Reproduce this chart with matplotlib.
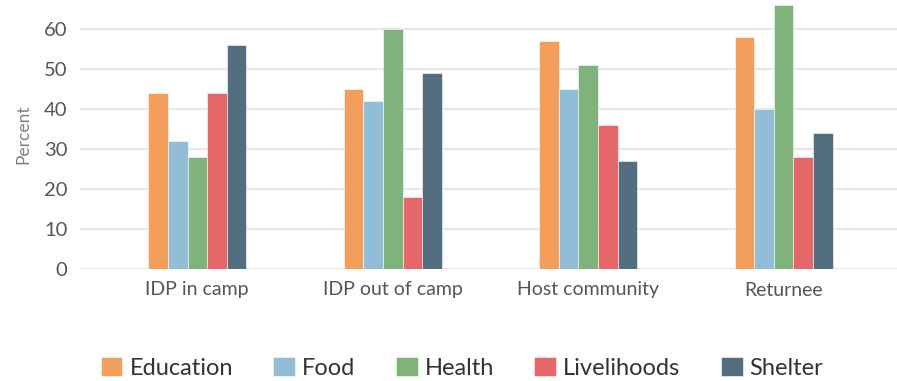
import matplotlib.pyplot as plt
import numpy as np

plt.rcParams['font.family'] = ['Lato', 'DejaVu Sans']

groups = ["IDP in camp", "IDP out of camp", "Host community", "Returnee"]
sectors = ["Education", "Food", "Health", "Livelihoods", "Shelter"]
education = [44, 45, 57, 58]
food = [32, 42, 45, 40]
health = [28, 60, 51, 66]
livelihoods = [44, 18, 36, 28]
shelter = [56, 49, 27, 34]
colors = ["#F49E5B", "#91BDD6", "#7FB37B", "#E5676A", "#526E7F"]

series = [education, food, health, livelihoods, shelter]

fig = plt.figure(figsize=(8.97, 3.81), dpi=100)
ax = fig.add_axes([80 / 897, 1 - 269 / 381, 1 - 80 / 897, 269 / 381])

x = np.arange(len(groups))
w = 0.1
for i, (vals, name, c) in enumerate(zip(series, sectors, colors)):
    ax.bar(x + (i - 2) * w, vals, width=w, color=c, label=name,
           edgecolor="white", linewidth=0.4, zorder=3)

ax.set_xlim(-0.6, 3.58)
ax.set_ylim(0, 67.25)
ax.set_yticks(range(0, 61, 10))
ax.set_xticks(x)
ax.set_xticklabels(groups)
ax.yaxis.grid(True, color="#E8E8E8", linewidth=1.5, zorder=0)
ax.set_axisbelow(True)
for s in ax.spines.values():
    s.set_visible(False)
ax.tick_params(axis="both", length=0, colors="#555555")
ax.tick_params(axis="y", labelsize=14.5, pad=9)
ax.tick_params(axis="x", labelsize=14, pad=9)
ax.set_ylabel("Percent", fontsize=12.5, color="#808080", labelpad=9)

fig.legend(loc="center", bbox_to_anchor=(0.515, 1 - 368 / 381), ncol=5,
           frameon=False, fontsize=17, handlelength=0.93, handleheight=0.85,
           handletextpad=0.3, columnspacing=1.7, labelcolor="#333333")

plt.savefig("out.png", dpi=100)
